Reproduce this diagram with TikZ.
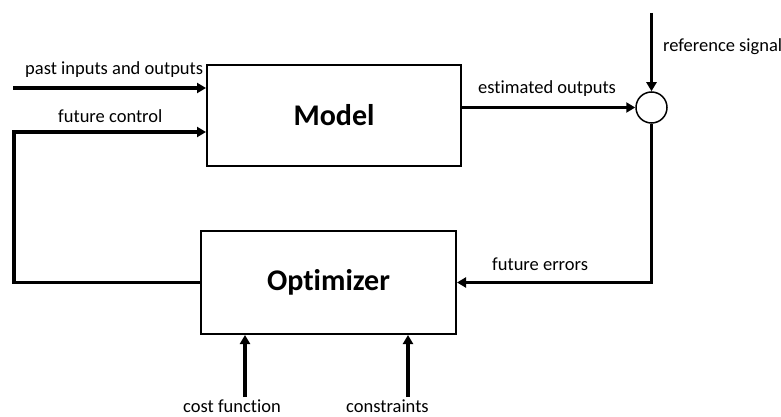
\documentclass[tikz,border=0pt]{standalone}
\usepackage{fontspec}
\setmainfont{Carlito}[Ligatures=NoCommon]
\usetikzlibrary{arrows.meta}
\begin{document}
\begin{tikzpicture}[x=1pt,y=-1pt,
  blockbox/.style={draw,line width=2pt,minimum width=#1,font=\fontsize{30}{36}\selectfont\bfseries,inner sep=0pt},
  conn/.style={line width=3.2pt,-{Triangle[length=9pt,width=10pt]}},
  lbl/.style={anchor=base west,inner sep=0pt,font=\fontsize{18.5}{22}\selectfont}]
\useasboundingbox (0,0) rectangle (781,417);
\node[blockbox=254pt,minimum height=101pt] (model) at (334,115.5) {Model};
\node[blockbox=255pt,minimum height=103pt] (opt) at (328.5,282.5) {Optimizer};
\node[draw,circle,line width=1.5pt,minimum size=31pt,inner sep=0pt] (sum) at (651.5,107.5) {};
\coordinate (pin) at (13,88);
\coordinate (fc) at (14,132);
\coordinate (ref) at (651.5,13);
\coordinate (cf) at (245,397);
\coordinate (cs) at (408,397);
\draw[conn] (pin) -- (pin -| model.west);
\draw[conn] (opt.west) -| (fc) -- (fc -| model.west);
\draw[conn] (sum.west -| model.east) -- (sum.west);
\draw[conn] (ref) -- (sum.north);
\draw[conn] (sum.south) |- (opt.east);
\draw[conn] (cf) -- (cf |- opt.south);
\draw[conn] (cs) -- (cs |- opt.south);
\node[lbl] (l1) at (25,75) {past inputs and outputs};
\node[lbl] (l2) at (58,123) {future control};
\node[lbl] (l3) at (478,94) {estimated outputs};
\node[lbl] (l4) at (663,52) {reference signal};
\node[lbl] (l5) at (492,270) {future errors};
\node[lbl] (l6) at (183,412.5) {cost function};
\node[lbl] (l7) at (346,412.5) {constraints};
\end{tikzpicture}
\end{document}
